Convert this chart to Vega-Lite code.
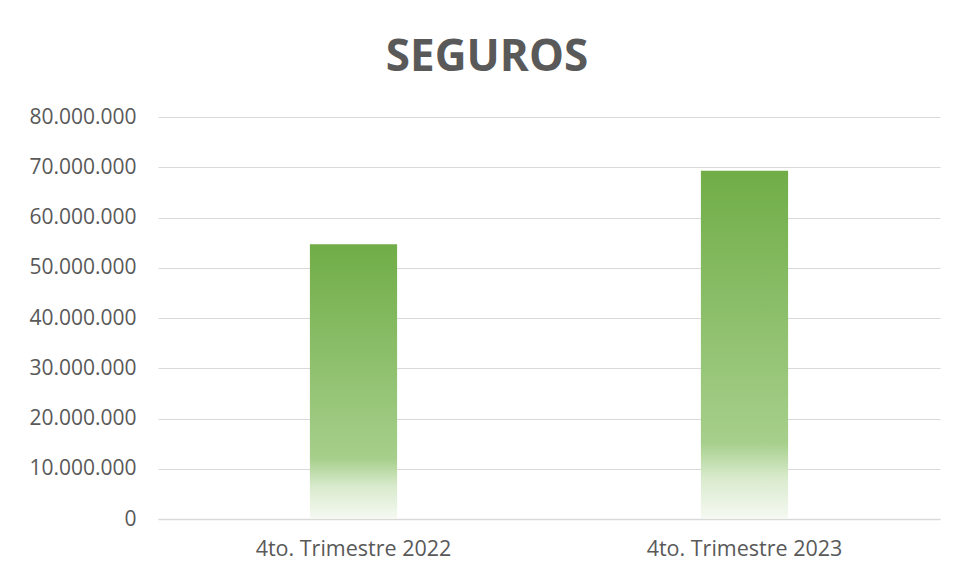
{
  "$schema": "https://vega.github.io/schema/vega-lite/v6.json",
  "width": 782,
  "height": 402,
  "autosize": {"type": "none"},
  "padding": {"left": 158, "top": 117, "right": 14, "bottom": 60},
  "background": "white",
  "title": {
    "text": "SEGUROS",
    "font": "Open Sans",
    "fontSize": 44,
    "fontWeight": "bold",
    "color": "#595959",
    "anchor": "middle",
    "frame": "group",
    "dx": -62,
    "offset": 26
  },
  "data": {
    "values": [
      {"periodo": "4to. Trimestre 2022", "valor": 54700000},
      {"periodo": "4to. Trimestre 2023", "valor": 69300000}
    ]
  },
  "mark": {
    "type": "bar",
    "color": {
      "gradient": "linear",
      "x1": 0, "y1": 0, "x2": 0, "y2": 1,
      "stops": [
        {"offset": 0, "color": "#70AD47"},
        {"offset": 0.78, "color": "#A6CF8B"},
        {"offset": 0.88, "color": "#D8EACC"},
        {"offset": 1, "color": "#F6F9F3"}
      ]
    }
  },
  "encoding": {
    "x": {
      "field": "periodo",
      "type": "nominal",
      "sort": null,
      "scale": {"paddingInner": 0.777, "paddingOuter": 0.3885},
      "axis": {
        "title": null,
        "labelAngle": 0,
        "labelFont": "Open Sans",
        "labelFontSize": 21.5,
        "labelColor": "#595959",
        "labelPadding": 19,
        "labelLimit": 400,
        "ticks": false,
        "domainColor": "#D9D9D9",
        "domainWidth": 1.5
      }
    },
    "y": {
      "field": "valor",
      "type": "quantitative",
      "scale": {"domain": [0, 80000000]},
      "axis": {
        "title": null,
        "values": [0, 10000000, 20000000, 30000000, 40000000, 50000000, 60000000, 70000000, 80000000],
        "labelExpr": "replace(format(datum.value, ',d'), /,/g, '.')",
        "labelFont": "Open Sans",
        "labelFontSize": 21,
        "labelColor": "#595959",
        "labelPadding": 22,
        "labelLimit": 300,
        "ticks": false,
        "domain": false,
        "gridColor": "#D9D9D9",
        "gridWidth": 1.2
      }
    }
  },
  "config": {"view": {"stroke": null}}
}
